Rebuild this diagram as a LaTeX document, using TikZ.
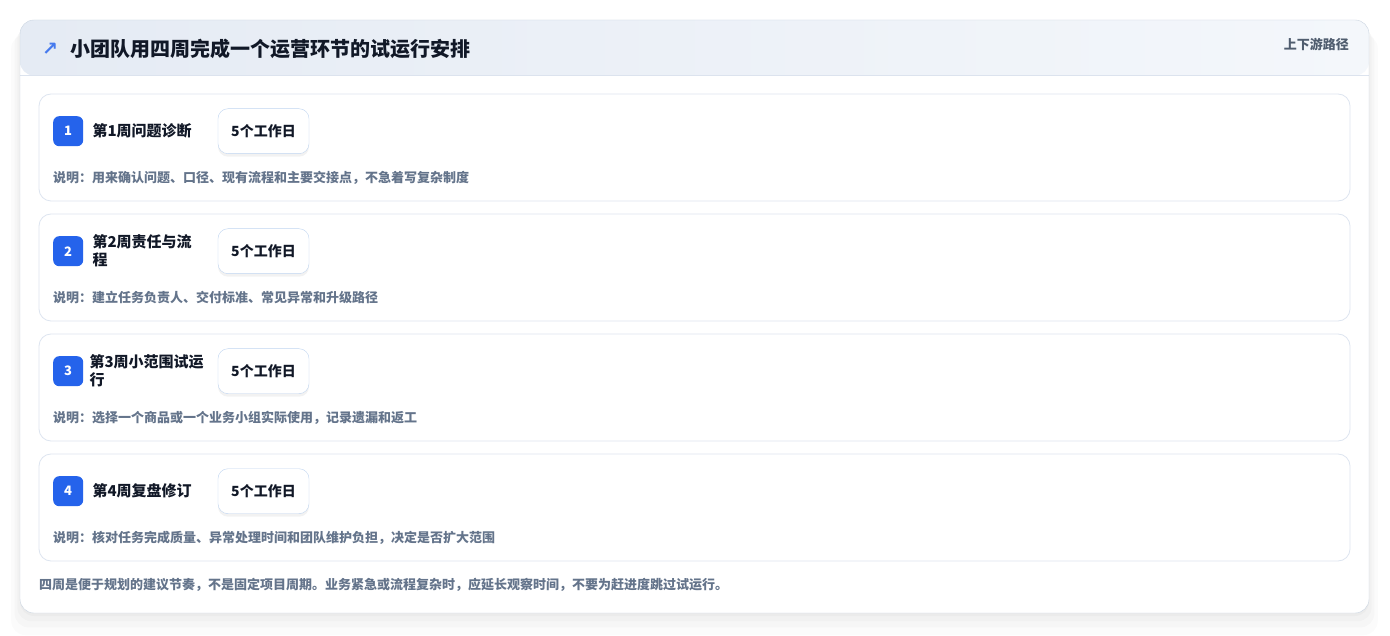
\documentclass[tikz,border=0pt]{standalone}
\usepackage{fontspec}
\setmainfont{Noto Sans CJK SC}
\newfontfamily\symfont{DejaVu Sans}
\usetikzlibrary{positioning,shadows}
\definecolor{badgeblue}{HTML}{2563EB}
\definecolor{inkdark}{HTML}{111827}
\definecolor{notegray}{HTML}{64748B}
\definecolor{cardline}{HTML}{DDE5F0}
\definecolor{panelline}{HTML}{CBD5E1}
\definecolor{pillline}{HTML}{BFD4F0}
\definecolor{headleft}{HTML}{E5EBF4}
\definecolor{headright}{HTML}{F4F7FB}
\definecolor{headline}{HTML}{DCE3EE}
\tikzset{panel/.style={draw=panelline, fill=white, rounded corners=14pt, minimum width=1349pt, minimum height=593pt, inner sep=0pt, outer sep=0pt,
    drop shadow={shadow xshift=0pt, shadow yshift=-3pt, opacity=0.025, fill=black},
    drop shadow={shadow xshift=0pt, shadow yshift=-7pt, shadow scale=1.004, opacity=0.02, fill=black},
    drop shadow={shadow xshift=0pt, shadow yshift=-12pt, shadow scale=1.008, opacity=0.02, fill=black},
    drop shadow={shadow xshift=0pt, shadow yshift=-18pt, shadow scale=1.013, opacity=0.015, fill=black},
    path picture={\fill[left color=headleft, right color=headright] (path picture bounding box.north west) rectangle ([yshift=-55.5pt]path picture bounding box.north east);
      \draw[headline] ([yshift=-55.5pt]path picture bounding box.north west) -- ([yshift=-55.5pt]path picture bounding box.north east);}},
  card/.style={draw=cardline, fill=white, rounded corners=12pt, minimum width=1311pt, minimum height=107pt, inner sep=0pt, outer sep=0pt, line width=0.8pt},
  badge/.style={fill=badgeblue, rounded corners=6pt, minimum size=30pt, inner sep=0pt, anchor=north west, text=white, font=\bfseries\fontsize{13}{13}\selectfont},
  steptitle/.style={anchor=west, inner sep=0pt, text width=116pt, align=left, text=inkdark, font=\bfseries\fontsize{15}{18}\selectfont},
  pill/.style={draw=pillline, fill=white, rounded corners=10pt, minimum width=91pt, minimum height=45pt, inner sep=0pt, text=inkdark, font=\bfseries\fontsize{14}{14}\selectfont,
    drop shadow={shadow xshift=0pt, shadow yshift=-3pt, opacity=0.05, fill=black}},
  note/.style={anchor=west, inner sep=0pt, text=notegray, font=\bfseries\fontsize{13}{13}\selectfont},}
\begin{document}
\begin{tikzpicture}[x=1pt, y=-1pt]
        \useasboundingbox[fill=white] (0,0) rectangle (1390,636);
        % Panel and header
        \node[panel] (panel) at (694.5,316.5) {};
        \node[anchor=west, inner sep=0pt, text=badgeblue!85, font=\symfont\bfseries\fontsize{19}{19}\selectfont] (icon) at (42,49) {↗};
        \node[anchor=west, inner sep=0pt, text=inkdark, font=\bfseries\fontsize{20}{20}\selectfont] (title) at (70,49) {小团队用四周完成一个运营环节的试运行安排};
        \node[anchor=east, inner sep=0pt, text=notegray!80!black, font=\bfseries\fontsize{13}{13}\selectfont] (route) at (1349,44) {上下游路径};
        % Cards
        \node[card] (c1) at (694.5,147.5) {};
        \node[card] [below = 13pt of c1] (c2) {};
        \node[card] [below = 13pt of c2] (c3) {};
        \node[card] [below = 13pt of c3] (c4) {};
        % Week 1
        \node[badge] (b1) at ([xshift=14pt,yshift=-22pt]c1.north west) {1};
        \node[steptitle] [right = 9pt of b1] (t1) {第1周问题诊断};
        \node[pill] [right = 9pt of t1] (p1) {5个工作日};
        \node[note] (n1) at ([xshift=14pt,yshift=-84pt]c1.north west) {说明：用来确认问题、口径、现有流程和主要交接点，不急着写复杂制度};
        % Week 2
        \node[badge] (b2) at ([xshift=14pt,yshift=-22pt]c2.north west) {2};
        \node[steptitle] [right = 9pt of b2] (t2) {第2周责任与流\\程};
        \node[pill] [right = 9pt of t2] (p2) {5个工作日};
        \node[note] (n2) at ([xshift=14pt,yshift=-84pt]c2.north west) {说明：建立任务负责人、交付标准、常见异常和升级路径};
        % Week 3
        \node[badge] (b3) at ([xshift=14pt,yshift=-22pt]c3.north west) {3};
        \node[steptitle] [right = 6pt of b3] (t3) {第3周小范围试运\\行};
        \node[pill] [right = 12pt of t3] (p3) {5个工作日};
        \node[note] (n3) at ([xshift=14pt,yshift=-84pt]c3.north west) {说明：选择一个商品或一个业务小组实际使用，记录遗漏和返工};
        % Week 4
        \node[badge] (b4) at ([xshift=14pt,yshift=-22pt]c4.north west) {4};
        \node[steptitle] [right = 9pt of b4] (t4) {第4周复盘修订};
        \node[pill] [right = 9pt of t4] (p4) {5个工作日};
        \node[note] (n4) at ([xshift=14pt,yshift=-84pt]c4.north west) {说明：核对任务完成质量、异常处理时间和团队维护负担，决定是否扩大范围};
        % Footer
        \node[note] [below right = 17pt and 0pt of c4.south west] (foot) {四周是便于规划的建议节奏，不是固定项目周期。业务紧急或流程复杂时，应延长观察时间，不要为赶进度跳过试运行。};
    \end{tikzpicture}
\end{document}
